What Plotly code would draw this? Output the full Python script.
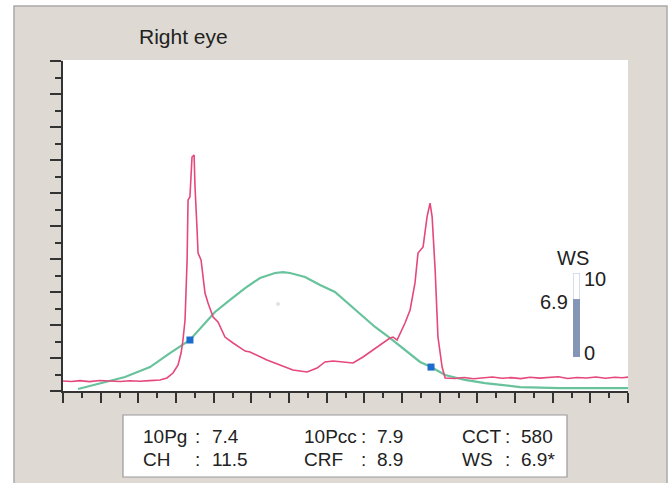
import plotly.graph_objects as go

W, H = 670, 483

# ---------------- data ----------------
title_text = "Right eye"

# applanation signal (red)
signal_x = [0.00, 0.45, 0.90, 1.40, 1.96, 2.50, 3.03, 3.55, 4.09, 4.60, 5.15, 5.52, 5.84, 6.11, 6.27, 6.37,
            6.48, 6.59, 6.64, 6.74, 6.80, 6.85, 6.96, 7.01, 7.12, 7.17, 7.33, 7.44, 7.54, 7.70, 7.97,
            8.23, 8.60, 9.03, 9.67, 9.93, 10.46, 10.83, 11.52, 12.21, 12.96, 13.49, 13.91, 14.34,
            14.87, 15.40, 15.93, 16.46, 16.99, 17.36, 17.53, 17.74, 18.16, 18.43, 18.69, 18.85,
            19.12, 19.33, 19.49, 19.60, 19.76, 19.91, 20.13, 20.29, 20.80, 21.30, 21.80, 22.30,
            22.80, 23.30, 23.80, 24.30, 24.80, 25.30, 25.80, 26.30, 26.80, 27.30, 27.80, 28.30,
            28.80, 29.30, 29.70, 30.00]
signal_y = [0.61, 0.58, 0.63, 0.57, 0.64, 0.60, 0.58, 0.62, 0.59, 0.63, 0.67, 0.79, 1.09, 1.58, 2.30, 3.09,
            4.30, 7.94, 11.58, 11.76, 13.09, 14.18, 14.30, 12.36, 9.76, 8.36, 7.94, 6.73, 5.94, 5.33, 4.48,
            4.18, 3.27, 2.91, 2.42, 2.36, 2.06, 1.88, 1.58, 1.27, 1.15, 1.39, 1.76, 1.82,
            1.76, 1.70, 2.06, 2.48, 2.91, 3.21, 3.27, 3.09, 4.12, 4.91, 6.55, 8.36,
            8.73, 10.55, 11.39, 10.55, 7.33, 3.27, 1.45, 0.79, 0.76, 0.82, 0.74, 0.80,
            0.85, 0.77, 0.81, 0.75, 0.83, 0.78, 0.80, 0.86, 0.76, 0.82, 0.79, 0.85,
            0.77, 0.83, 0.80, 0.84]

# corneal profile (green)
profile_x = [0.80, 1.96, 2.50, 3.29, 4.62, 5.68, 6.74, 7.54, 8.07, 8.87, 9.67, 10.46, 11.26, 11.68,
             12.05, 12.85, 13.65, 14.44, 15.51, 16.57, 17.37, 18.16, 18.96, 19.54, 20.29, 21.35,
             22.41, 24.27, 26.39, 30.00]
profile_y = [0.12, 0.48, 0.61, 0.85, 1.45, 2.30, 3.09, 4.12, 4.79, 5.52, 6.24, 6.85, 7.15, 7.21,
             7.15, 6.91, 6.42, 6.00, 4.91, 3.88, 3.21, 2.48, 1.76, 1.45, 0.97, 0.67,
             0.48, 0.24, 0.18, 0.18]

# applanation points (blue)
applanation_x = [6.74, 19.54]
applanation_y = [3.09, 1.45]

# faint reference dot
ref_x = [11.42]
ref_y = [5.27]

# waveform score gauge
ws_value = 6.9
ws_max = 10

# parameter table
param_names = [["10Pg", "CH"], ["10Pcc", "CRF"], ["CCT", "WS"]]
param_values = [["7.4", "11.5"], ["7.9", "8.9"], ["580", "6.9*"]]

# ---------------- figure ----------------
def px(x):
    return x / W

def py(y):
    return 1 - y / H

RED = "#e5487a"
GREEN = "#68c29c"
BLUE = "#1b6ccc"
BEIGE = "#dedad3"
AXIS = "#333333"
FONT = "Liberation Sans, Arial, sans-serif"
TXT = "#222222"

fig = go.Figure()

fig.add_trace(go.Scatter(x=profile_x, y=profile_y, mode="lines",
                         line=dict(color=GREEN, width=2.2), hoverinfo="skip"))
fig.add_trace(go.Scatter(x=signal_x, y=signal_y, mode="lines",
                         line=dict(color=RED, width=1.6), hoverinfo="skip"))
fig.add_trace(go.Scatter(x=applanation_x, y=applanation_y, mode="markers",
                         marker=dict(symbol="square", size=7, color=BLUE), hoverinfo="skip"))
fig.add_trace(go.Scatter(x=ref_x, y=ref_y, mode="markers",
                         marker=dict(size=4, color="#e2e2e2"), hoverinfo="skip"))

# gauge
fig.add_trace(go.Bar(x=[0], y=[ws_max], width=1, xaxis="x2", yaxis="y2",
                     marker=dict(color="white", line=dict(color="#c8d3e8", width=1.5)),
                     hoverinfo="skip"))
fig.add_trace(go.Bar(x=[0], y=[ws_value], width=1, xaxis="x2", yaxis="y2",
                     marker=dict(color="#8595b6", line=dict(width=0)),
                     hoverinfo="skip"))

fig.update_layout(
    width=W, height=H,
    margin=dict(l=0, r=0, t=0, b=0),
    paper_bgcolor="white",
    plot_bgcolor="white",
    showlegend=False,
    barmode="overlay",
    xaxis=dict(domain=[px(63), px(628)], range=[0, 30], showgrid=False, zeroline=False,
               showline=True, linecolor=AXIS, linewidth=1.5,
               ticks="outside", tick0=0, dtick=2, ticklen=10, tickwidth=1.5, tickcolor=AXIS,
               showticklabels=False,
               minor=dict(dtick=1, tick0=0, ticks="outside", ticklen=5, tickwidth=1.5,
                          tickcolor=AXIS, showgrid=False)),
    yaxis=dict(domain=[py(391), py(61)], range=[0, 20], showgrid=False, zeroline=False,
               showline=True, linecolor=AXIS, linewidth=1.5,
               ticks="outside", tick0=0, dtick=2, ticklen=11, tickwidth=1.5, tickcolor=AXIS,
               showticklabels=False,
               minor=dict(dtick=1, tick0=0, ticks="outside", ticklen=6, tickwidth=1.5,
                          tickcolor=AXIS, showgrid=False)),
    xaxis2=dict(domain=[px(573), px(580)], range=[-0.5, 0.5], visible=False, anchor="y2"),
    yaxis2=dict(domain=[py(357), py(273)], range=[0, ws_max], visible=False, anchor="x2"),
)

shapes = [
    dict(type="rect", xref="paper", yref="paper", x0=px(14), x1=px(667), y0=py(486), y1=py(6),
         fillcolor=BEIGE, line=dict(color="#a9a9a9", width=1.5), layer="below"),
    dict(type="rect", xref="paper", yref="paper", x0=px(63), x1=px(628), y0=py(391), y1=py(60),
         fillcolor="white", line=dict(width=0), layer="below"),
    dict(type="rect", xref="paper", yref="paper", x0=px(123), x1=px(567), y0=py(477), y1=py(415),
         fillcolor="white", line=dict(color="#9a9a9a", width=1.2), layer="below"),
]
fig.update_layout(shapes=shapes)

ann = []
ann.append(dict(text=title_text, x=px(137), y=py(36), xref="paper", yref="paper",
                xanchor="left", yanchor="middle", showarrow=False,
                font=dict(family=FONT, size=21, color=TXT)))

# gauge labels
gfont = dict(family=FONT, size=20, color=TXT)
ann.append(dict(text="WS", x=px(573), y=py(258), xref="paper", yref="paper",
                xanchor="center", yanchor="middle", showarrow=False, font=gfont))
ann.append(dict(text=str(ws_max), x=px(582), y=ws_max, xref="paper", yref="y2",
                xanchor="left", yanchor="middle", yshift=-6, showarrow=False, font=gfont))
ann.append(dict(text="0", x=px(582), y=0, xref="paper", yref="y2",
                xanchor="left", yanchor="middle", yshift=4, showarrow=False, font=gfont))
ann.append(dict(text=f"{ws_value}", x=px(570), y=ws_value, xref="paper", yref="y2",
                xanchor="right", yanchor="middle", yshift=-3, showarrow=False, font=gfont))

# parameter table
name_x = [141, 302, 460]
colon_x = [197, 363, 507]
value_x = [210, 375, 519]
row_y = [436, 459]
tfont = dict(family=FONT, size=19, color=TXT)
for c in range(3):
    for r in range(2):
        ann.append(dict(text=param_names[c][r], x=px(name_x[c]), y=py(row_y[r]), xref="paper",
                        yref="paper", xanchor="left", yanchor="middle", showarrow=False, font=tfont))
        ann.append(dict(text=":", x=px(colon_x[c]), y=py(row_y[r]), xref="paper",
                        yref="paper", xanchor="center", yanchor="middle", showarrow=False, font=tfont))
        ann.append(dict(text=param_values[c][r], x=px(value_x[c]), y=py(row_y[r]), xref="paper",
                        yref="paper", xanchor="left", yanchor="middle", showarrow=False, font=tfont))

fig.update_layout(annotations=ann)

fig.write_html("out.html", config={"displayModeBar": False},
               post_script="document.body.style.margin='0';")
